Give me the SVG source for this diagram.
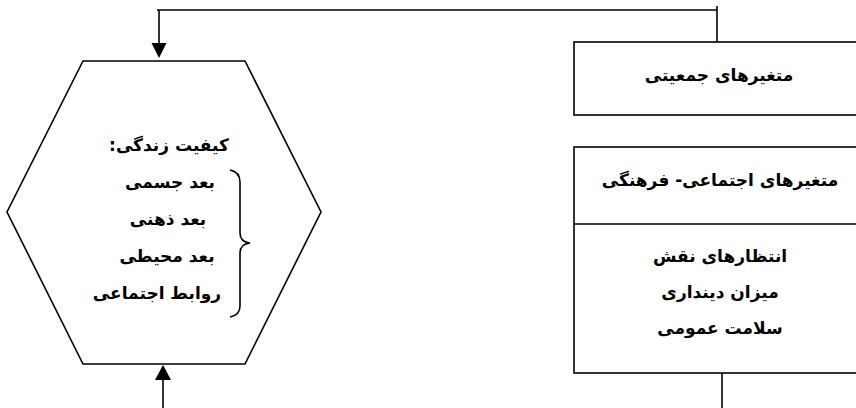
<svg xmlns="http://www.w3.org/2000/svg" width="856" height="408" viewBox="0 0 856 408">
<defs>
<style>
.s{fill:none;stroke:#000;stroke-width:1.6}
.a{fill:#000;stroke:none}
.t{font-family:"DejaVu Sans",sans-serif;font-weight:bold;font-size:17px;fill:#000;text-anchor:middle;direction:rtl}
</style>
</defs>
<rect width="856" height="408" fill="#fff"/>
<g id="connectors">
<path class="s" d="M717,6 V42"/>
<path class="s" d="M157,10 H717"/>
<path class="s" d="M159,10 V44"/>
<polygon class="a" points="151.5,43 166.5,43 159,58"/>
<path class="s" d="M163,408 V378"/>
<polygon class="a" points="155,380 171,380 163,365"/>
<path class="s" d="M722,373 V408"/>
</g>
<g id="quality">
<polygon class="s" points="83,61 245,61 321,212 245,364 83,364 7,212"/>
<text class="t" x="169" y="151">کیفیت زندگی:</text>
<text class="t" x="170" y="188">بعد جسمی</text>
<text class="t" x="168" y="225">بعد ذهنی</text>
<text class="t" x="167" y="262">بعد محیطی</text>
<text class="t" x="157" y="299">روابط اجتماعی</text>
<path class="s" d="M230,170 Q240,172 240,182 V233 Q240,242 250,243 Q240,244 240,253 V306 Q240,315 230,317"/>
</g>
<g id="demographic">
<rect class="s" x="574" y="42" width="292" height="73"/>
<text class="t" x="719" y="81">متغیرهای جمعیتی</text>
</g>
<g id="sociocultural">
<rect class="s" x="574" y="147" width="292" height="226"/>
<path class="s" d="M574,224 H866"/>
<text class="t" x="720" y="186">متغیرهای اجتماعی- فرهنگی</text>
<text class="t" x="720" y="262">انتظارهای نقش</text>
<text class="t" x="720" y="298">میزان دینداری</text>
<text class="t" x="720" y="334">سلامت عمومی</text>
</g>
</svg>
